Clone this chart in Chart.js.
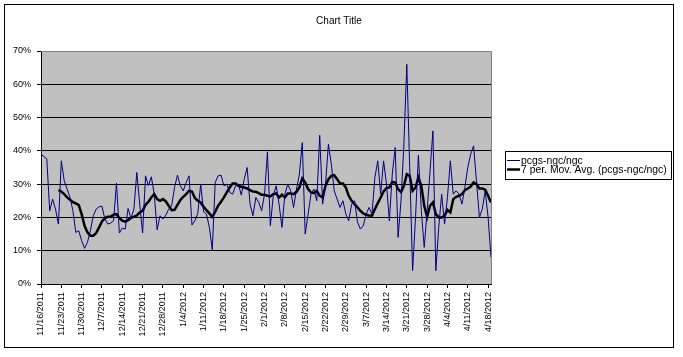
<!DOCTYPE html>
<html><head><meta charset="utf-8">
<script src="https://cdn.jsdelivr.net/npm/chart.js@4/dist/chart.umd.min.js"></script>
<style>html,body{margin:0;padding:0;background:#fff}#wrap{width:683px;height:357px}</style>
</head><body><div id="wrap"><canvas id="c" width="683" height="357"></canvas></div>
<script>
const categories = [
"11/16/2011","11/17/2011","11/18/2011","11/19/2011","11/20/2011","11/21/2011","11/22/2011","11/23/2011","11/24/2011","11/25/2011","11/26/2011","11/27/2011","11/28/2011","11/29/2011","11/30/2011",
"12/1/2011","12/2/2011","12/3/2011","12/4/2011","12/5/2011","12/6/2011","12/7/2011","12/8/2011","12/9/2011","12/10/2011","12/11/2011","12/12/2011","12/13/2011","12/14/2011","12/15/2011","12/16/2011","12/17/2011","12/18/2011","12/19/2011","12/20/2011","12/21/2011","12/22/2011","12/23/2011","12/24/2011","12/25/2011","12/26/2011","12/27/2011","12/28/2011","12/29/2011","12/30/2011","12/31/2011",
"1/1/2012","1/2/2012","1/3/2012","1/4/2012","1/5/2012","1/6/2012","1/7/2012","1/8/2012","1/9/2012","1/10/2012","1/11/2012","1/12/2012","1/13/2012","1/14/2012","1/15/2012","1/16/2012","1/17/2012","1/18/2012","1/19/2012","1/20/2012","1/21/2012","1/22/2012","1/23/2012","1/24/2012","1/25/2012","1/26/2012","1/27/2012","1/28/2012","1/29/2012","1/30/2012","1/31/2012",
"2/1/2012","2/2/2012","2/3/2012","2/4/2012","2/5/2012","2/6/2012","2/7/2012","2/8/2012","2/9/2012","2/10/2012","2/11/2012","2/12/2012","2/13/2012","2/14/2012","2/15/2012","2/16/2012","2/17/2012","2/18/2012","2/19/2012","2/20/2012","2/21/2012","2/22/2012","2/23/2012","2/24/2012","2/25/2012","2/26/2012","2/27/2012","2/28/2012","2/29/2012",
"3/1/2012","3/2/2012","3/3/2012","3/4/2012","3/5/2012","3/6/2012","3/7/2012","3/8/2012","3/9/2012","3/10/2012","3/11/2012","3/12/2012","3/13/2012","3/14/2012","3/15/2012","3/16/2012","3/17/2012","3/18/2012","3/19/2012","3/20/2012","3/21/2012","3/22/2012","3/23/2012","3/24/2012","3/25/2012","3/26/2012","3/27/2012","3/28/2012","3/29/2012","3/30/2012","3/31/2012",
"4/1/2012","4/2/2012","4/3/2012","4/4/2012","4/5/2012","4/6/2012","4/7/2012","4/8/2012","4/9/2012","4/10/2012","4/11/2012","4/12/2012","4/13/2012","4/14/2012","4/15/2012","4/16/2012","4/17/2012","4/18/2012","4/19/2012"
];
const tickLabels = ["11/16/2011","11/23/2011","11/30/2011","12/7/2011","12/14/2011","12/21/2011","12/28/2011","1/4/2012","1/11/2012","1/18/2012","1/25/2012","2/1/2012","2/8/2012","2/15/2012","2/22/2012","2/29/2012","3/7/2012","3/14/2012","3/21/2012","3/28/2012","4/4/2012","4/11/2012","4/18/2012"];
const yTickValues = [0,10,20,30,40,50,60,70];
const seriesName = "pcgs-ngc/ngc";
const movAvgName = "7 per. Mov. Avg. (pcgs-ngc/ngc)";
const chartTitle = "Chart Title";
const ratio = [
39,38.3,37.6,22,25.5,22.5,18,37,31,28.5,26,22,15.5,16,13,10.7,12.5,16,20.5,22.5,
23.2,23.4,19.5,18,18.3,19,30.3,15.3,16.8,16.5,22.7,19.7,22.5,33.5,24,15.3,32.5,29.5,32.2,27,
16.3,20.5,19.5,20.7,22.5,23.5,29,32.7,29.5,28,30.5,32.5,17.7,19,21.2,30,21.7,21,17,10.3,
30.5,32.5,32.7,29.5,30,27.5,27,29.5,30,26.7,31.5,35,24,20.5,26,24.5,22,27,39.7,17.5,
26.5,29.5,24,17,27,30,28,23,28.5,33,42.5,15,21,27,28.5,25,44.7,24,30,42,
36,28,25.5,23,25,21,19,24,25,18.7,16.5,17.5,21,23,21,32,37,27,37,30,
19,33,41,14,25,42,66,35,4,20,38.7,22,11,22,34,46,4,17,27,18,
26,37,27,28,27,24,29,35,39,41.5,31,20,22.5,28,20,8
];
const movingAvg = [
null,null,null,null,null,null,
28.2,27.8,27,26,25.3,24.6,24.2,23.7,21,17.5,15.5,14.5,14.5,15.3,
17,18.8,19.8,20.2,20.3,20.8,21,19.8,19,18.7,19.2,19.9,20.2,20.6,21.5,22,23.8,24.7,26,27,
25.5,25,25.5,24.8,23.5,22.2,22.3,23.8,25.2,26.2,27,28,27.8,25.8,25,24.5,23.2,22.2,21.2,20.2,
21.7,23.5,24.7,26,27.5,29,30.2,30.2,29.5,29.2,29,28.7,28.2,27.8,27.7,27.3,26.8,26.8,26.5,26.3,
27,27.2,26,26.8,26,27.2,27.2,27,27.7,29,31.7,30.5,28.5,27.5,27.3,28,26.5,26,29.5,31.5,
32.5,32.7,31.5,30.2,30.2,29,26.5,25,24,23,22,21.2,20.8,20.6,20.5,22.5,24.3,26,27.8,28.8,
29,30.7,30.5,28.5,27.6,29.5,33,32.5,28,29,32,29.5,23.5,20.2,23.5,24.5,21,20,20,20.5,
22.3,21.5,25.5,26.2,26.5,27,28.2,28.7,29.3,30.5,30,28.7,28.7,28.3,26.5,24.5
];

const FONT = "'Liberation Sans', Arial, sans-serif";

const framePlugin = {
  id: 'frame',
  beforeDraw(chart) {
    const {ctx, chartArea: a} = chart;
    ctx.save();
    ctx.fillStyle = '#fff';
    ctx.fillRect(0, 0, chart.width, chart.height);
    ctx.fillStyle = '#C0C0C0';
    ctx.fillRect(a.left, a.top, a.right - a.left, a.bottom - a.top);
    ctx.restore();
  },
  afterDraw(chart) {
    const {ctx, chartArea: a} = chart;
    ctx.save();
    ctx.strokeStyle = '#808080';
    ctx.lineWidth = 1;
    ctx.beginPath();
    ctx.moveTo(a.left, Math.round(a.top) + 0.5);
    ctx.lineTo(Math.round(a.right) + 0.5, Math.round(a.top) + 0.5);
    ctx.lineTo(Math.round(a.right) + 0.5, a.bottom);
    ctx.stroke();
    ctx.strokeStyle = '#000';
    ctx.strokeRect(4.5, 4.5, 669, 343);
    ctx.fillStyle = '#000';
    ctx.font = '10px ' + FONT;
    ctx.textAlign = 'center';
    ctx.textBaseline = 'alphabetic';
    ctx.fillText(chartTitle, 339, 23.5);
    ctx.strokeRect(505.5, 151.5, 166, 28);
    const ds = chart.data.datasets;
    const ys = [160.5, 169.5];
    ctx.font = '10.4px ' + FONT;
    ctx.textAlign = 'left';
    ctx.textBaseline = 'middle';
    ds.forEach((d, i) => {
      ctx.strokeStyle = d.borderColor;
      ctx.lineWidth = d.borderWidth;
      ctx.beginPath();
      ctx.moveTo(507, ys[i]);
      ctx.lineTo(520, ys[i]);
      ctx.stroke();
      ctx.fillStyle = '#000';
      ctx.fillText(d.label, 521, ys[i] + 0.5);
    });
    ctx.restore();
  }
};

new Chart(document.getElementById('c'), {
  type: 'line',
  data: {
    labels: categories,
    datasets: [
      { label: seriesName, data: ratio, borderColor: '#000080', borderWidth: 1, pointRadius: 0, tension: 0, fill: false },
      { label: movAvgName, data: movingAvg, borderColor: '#000000', borderWidth: 2.5, pointRadius: 0, tension: 0, fill: false }
    ]
  },
  options: {
    responsive: false,
    animation: false,
    devicePixelRatio: 1,
    layout: { padding: { left: 0, top: 51, right: 192, bottom: 9 } },
    plugins: { legend: { display: false }, title: { display: false }, tooltip: { enabled: false } },
    scales: {
      x: {
        type: 'category',
        offset: false,
        grid: {
          display: true, drawOnChartArea: false, drawTicks: true, tickLength: 4,
          color: c => (tickLabels.includes(categories[c.index]) ? '#000' : 'rgba(0,0,0,0)')
        },
        border: { display: true, color: '#000', width: 1 },
        ticks: {
          autoSkip: false, maxRotation: 90, minRotation: 90, padding: 4, color: '#000',
          font: { family: FONT, size: 9 },
          callback: (v, i) => (tickLabels.includes(categories[i]) ? categories[i] : '')
        },
        afterFit: s => { s.height = 64; }
      },
      y: {
        min: 0, max: 70,
        afterBuildTicks: s => { s.ticks = yTickValues.map(v => ({ value: v })); },
        grid: {
          color: c => (c.tick && c.tick.value === 70 ? 'rgba(0,0,0,0)' : '#000'),
          tickColor: '#000', tickLength: 4, drawTicks: true, lineWidth: 1
        },
        border: { display: true, color: '#000', width: 1 },
        ticks: { padding: 6, color: '#000', font: { family: FONT, size: 9 }, callback: v => v + '%' },
        afterFit: s => { s.width = 41; }
      }
    }
  },
  plugins: [framePlugin]
});
</script>
</body></html>
